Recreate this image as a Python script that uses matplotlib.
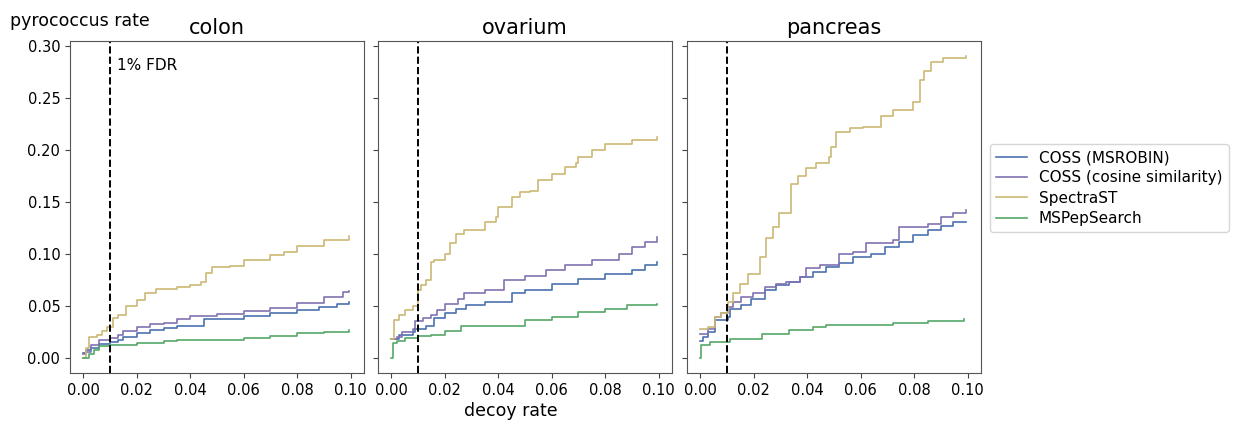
import matplotlib
matplotlib.use("Agg")
import matplotlib.pyplot as plt

tissues = ["colon", "ovarium", "pancreas"]
methods = ["COSS (MSROBIN)", "COSS (cosine similarity)", "SpectraST", "MSPepSearch"]
colors = ["#4C72B0", "#8172B2", "#CCB974", "#55A868"]
x_ticks = [0.00, 0.02, 0.04, 0.06, 0.08, 0.10]
y_ticks = [0.00, 0.05, 0.10, 0.15, 0.20, 0.25, 0.30]
fdr_line = 0.01

# colon
colon_msrobin_x = [0.0, 0.001, 0.003, 0.006, 0.010, 0.013, 0.015, 0.020, 0.025, 0.030, 0.035, 0.045, 0.060, 0.070, 0.080, 0.088, 0.095, 0.0995]
colon_msrobin_y = [0.005, 0.008, 0.010, 0.013, 0.015, 0.017, 0.020, 0.024, 0.027, 0.029, 0.031, 0.037, 0.040, 0.043, 0.046, 0.049, 0.052, 0.054]
colon_cosine_x = [0.0, 0.001, 0.003, 0.006, 0.010, 0.013, 0.015, 0.020, 0.025, 0.030, 0.035, 0.040, 0.050, 0.060, 0.070, 0.080, 0.090, 0.097, 0.0995]
colon_cosine_y = [0.004, 0.006, 0.012, 0.017, 0.019, 0.022, 0.026, 0.030, 0.033, 0.034, 0.037, 0.040, 0.042, 0.045, 0.048, 0.053, 0.059, 0.063, 0.064]
colon_spectrast_x = [0.0, 0.001, 0.002, 0.005, 0.007, 0.009, 0.011, 0.013, 0.016, 0.020, 0.023, 0.027, 0.035, 0.040, 0.044, 0.046, 0.048, 0.055, 0.060, 0.070, 0.075, 0.080, 0.090, 0.0995]
colon_spectrast_y = [0.000, 0.010, 0.020, 0.022, 0.026, 0.030, 0.038, 0.041, 0.050, 0.056, 0.062, 0.066, 0.068, 0.070, 0.073, 0.082, 0.087, 0.088, 0.094, 0.099, 0.102, 0.108, 0.113, 0.117]
colon_mspep_x = [0.0, 0.002, 0.004, 0.006, 0.010, 0.020, 0.030, 0.035, 0.050, 0.060, 0.070, 0.080, 0.090, 0.0995]
colon_mspep_y = [0.000, 0.004, 0.008, 0.011, 0.012, 0.014, 0.016, 0.017, 0.017, 0.019, 0.021, 0.024, 0.025, 0.027]

# ovarium
ovar_msrobin_x = [0.0, 0.003, 0.008, 0.009, 0.013, 0.016, 0.020, 0.024, 0.028, 0.035, 0.045, 0.050, 0.060, 0.070, 0.080, 0.090, 0.095, 0.0995]
ovar_msrobin_y = [0.018, 0.022, 0.025, 0.028, 0.031, 0.038, 0.043, 0.047, 0.051, 0.054, 0.062, 0.065, 0.071, 0.076, 0.081, 0.084, 0.089, 0.092]
ovar_cosine_x = [0.0, 0.002, 0.004, 0.008, 0.009, 0.012, 0.015, 0.017, 0.020, 0.025, 0.027, 0.035, 0.042, 0.050, 0.058, 0.065, 0.075, 0.085, 0.090, 0.095, 0.0995]
ovar_cosine_y = [0.018, 0.020, 0.025, 0.028, 0.035, 0.038, 0.041, 0.046, 0.052, 0.057, 0.062, 0.065, 0.075, 0.079, 0.084, 0.089, 0.094, 0.100, 0.107, 0.111, 0.116]
ovar_spectrast_x = [0.0, 0.001, 0.003, 0.005, 0.008, 0.010, 0.011, 0.013, 0.015, 0.016, 0.020, 0.022, 0.024, 0.027, 0.035, 0.039, 0.040, 0.045, 0.048, 0.052, 0.055, 0.060, 0.065, 0.069, 0.070, 0.075, 0.080, 0.090, 0.0995]
ovar_spectrast_y = [0.018, 0.036, 0.041, 0.046, 0.050, 0.065, 0.070, 0.075, 0.092, 0.094, 0.100, 0.110, 0.119, 0.123, 0.131, 0.135, 0.145, 0.155, 0.159, 0.160, 0.171, 0.177, 0.183, 0.187, 0.193, 0.200, 0.206, 0.209, 0.212]
ovar_mspep_x = [0.0, 0.0005, 0.002, 0.005, 0.010, 0.015, 0.020, 0.026, 0.040, 0.050, 0.060, 0.070, 0.080, 0.088, 0.0995]
ovar_mspep_y = [0.000, 0.014, 0.016, 0.019, 0.021, 0.022, 0.026, 0.031, 0.031, 0.036, 0.039, 0.044, 0.047, 0.051, 0.052]

# pancreas
panc_msrobin_x = [0.0, 0.001, 0.003, 0.0054, 0.0103, 0.011, 0.0153, 0.019, 0.024, 0.0284, 0.033, 0.0371, 0.042, 0.047, 0.052, 0.057, 0.064, 0.069, 0.0745, 0.0795, 0.085, 0.090, 0.0944, 0.0995]
panc_msrobin_y = [0.016, 0.020, 0.025, 0.036, 0.039, 0.047, 0.051, 0.057, 0.065, 0.070, 0.073, 0.078, 0.083, 0.087, 0.091, 0.097, 0.100, 0.107, 0.111, 0.118, 0.123, 0.127, 0.131, 0.131]
panc_cosine_x = [0.0, 0.0029, 0.0054, 0.0078, 0.0103, 0.0122, 0.0153, 0.0197, 0.024, 0.0284, 0.0321, 0.0371, 0.0396, 0.0446, 0.052, 0.057, 0.062, 0.072, 0.0745, 0.0795, 0.085, 0.090, 0.0944, 0.0995]
panc_cosine_y = [0.023, 0.028, 0.039, 0.043, 0.049, 0.054, 0.059, 0.062, 0.068, 0.071, 0.073, 0.078, 0.086, 0.089, 0.100, 0.102, 0.110, 0.113, 0.126, 0.126, 0.129, 0.135, 0.139, 0.142]
panc_spectrast_x = [0.0, 0.0029, 0.0054, 0.0078, 0.0103, 0.0122, 0.0147, 0.0178, 0.0222, 0.0247, 0.0271, 0.0296, 0.034, 0.0365, 0.0396, 0.0433, 0.0483, 0.0489, 0.0508, 0.0558, 0.0608, 0.0676, 0.072, 0.0795, 0.082, 0.0838, 0.0863, 0.0907, 0.0995]
panc_spectrast_y = [0.028, 0.030, 0.039, 0.043, 0.054, 0.062, 0.071, 0.081, 0.097, 0.115, 0.126, 0.139, 0.167, 0.175, 0.182, 0.187, 0.193, 0.203, 0.217, 0.221, 0.222, 0.232, 0.238, 0.246, 0.267, 0.276, 0.284, 0.288, 0.290]
panc_mspep_x = [0.0, 0.0003, 0.0035, 0.011, 0.023, 0.033, 0.042, 0.047, 0.072, 0.085, 0.0985]
panc_mspep_y = [0.000, 0.012, 0.015, 0.0186, 0.023, 0.027, 0.030, 0.032, 0.034, 0.035, 0.037]

series = {
    "colon": [(colon_msrobin_x, colon_msrobin_y), (colon_cosine_x, colon_cosine_y),
              (colon_spectrast_x, colon_spectrast_y), (colon_mspep_x, colon_mspep_y)],
    "ovarium": [(ovar_msrobin_x, ovar_msrobin_y), (ovar_cosine_x, ovar_cosine_y),
                (ovar_spectrast_x, ovar_spectrast_y), (ovar_mspep_x, ovar_mspep_y)],
    "pancreas": [(panc_msrobin_x, panc_msrobin_y), (panc_cosine_x, panc_cosine_y),
                 (panc_spectrast_x, panc_spectrast_y), (panc_mspep_x, panc_mspep_y)],
}

W, H = 1241, 422
fig = plt.figure(figsize=(W / 100, H / 100), dpi=100)
lefts = [70, 378, 687]
axw, top, bottom = 294, 41, 373
axes = []
for i, t in enumerate(tissues):
    ax = fig.add_axes([lefts[i] / W, 1 - bottom / H, axw / W, (bottom - top) / H],
                      sharey=axes[0] if axes else None)
    axes.append(ax)
    for (xs, ys), c, m in zip(series[t], colors, methods):
        ax.plot(xs, ys, drawstyle="steps-post", color=c, lw=1.2, label=m)
    ax.axvline(fdr_line, color="black", ls="--", lw=1.4)
    ax.set_title(t, fontsize=15, pad=5)
    ax.set_xticks(x_ticks)
    ax.set_xticklabels([f"{v:.2f}" for v in x_ticks])
    ax.set_xlim(-0.005, 0.105)
    ax.tick_params(labelsize=10.5, color="#444444")
    for s in ax.spines.values():
        s.set_color("#555555")
    if i > 0:
        ax.tick_params(labelleft=False)

axes[0].set_yticks(y_ticks)
axes[0].set_yticklabels([f"{v:.2f}" for v in y_ticks])
axes[0].set_ylim(-0.0145, 0.3045)
axes[0].text(0.0125, 0.281, "1% FDR", fontsize=11, va="center", ha="left")

fig.text(10 / W, 1 - 21 / H, "pyrococcus rate", fontsize=12.5, va="center", ha="left")
fig.text(511 / W, 1 - 411 / H, "decoy rate", fontsize=12.5, va="center", ha="center")

handles, labels = axes[0].get_legend_handles_labels()
fig.legend(handles, labels, loc="upper left", bbox_to_anchor=(990 / W, 1 - 144 / H),
           fontsize=11, frameon=True, borderaxespad=0, handlelength=2.0,
           labelspacing=0.35)

fig.savefig("out.png", dpi=100)
